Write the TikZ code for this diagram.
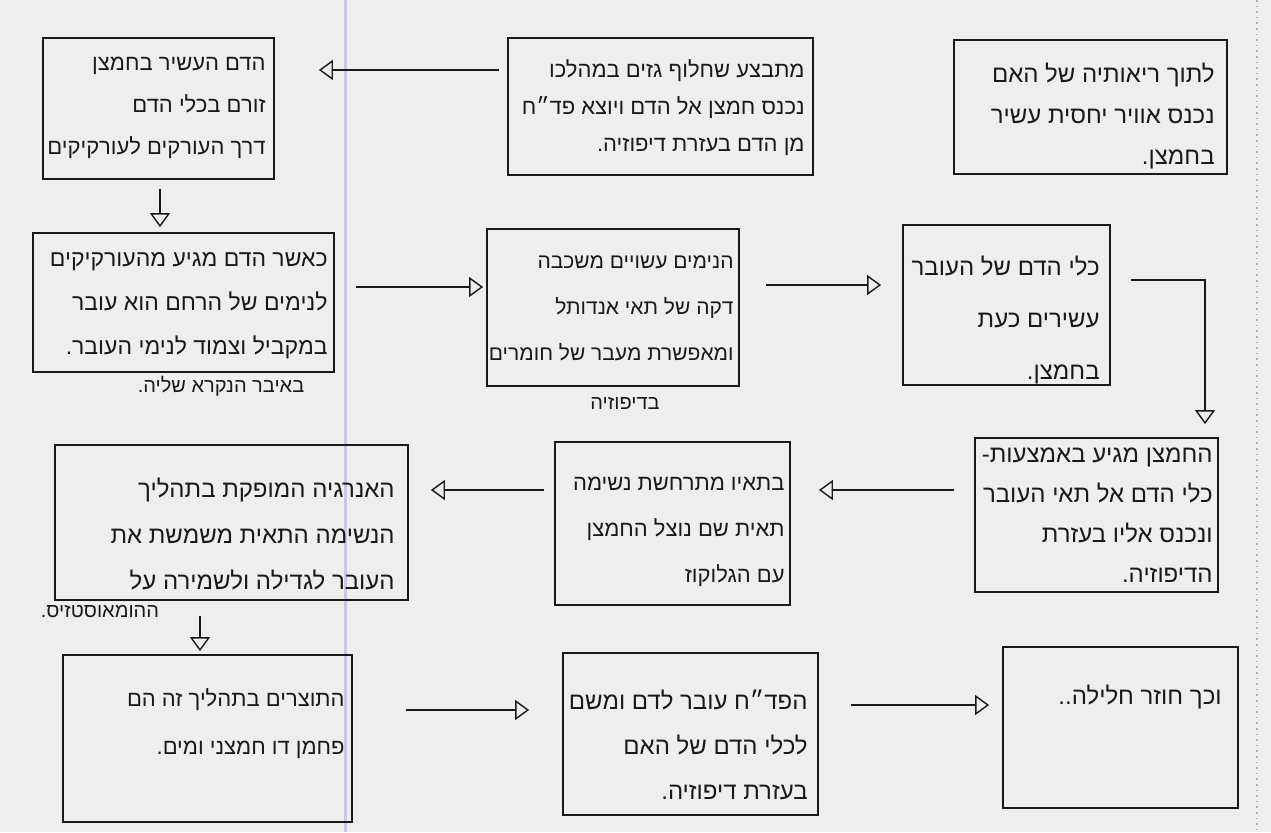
\documentclass[tikz,border=0pt]{standalone}
\usepackage{fontspec}
\newfontfamily\hebfont[Script=Hebrew]{Liberation Sans}
\TeXXeTstate=1
\usetikzlibrary{arrows.meta}
\definecolor{paper}{RGB}{238,238,238}
\definecolor{marginline}{RGB}{208,194,232}
\definecolor{ink}{RGB}{25,25,25}
\newcommand\hebline[1]{\beginR #1\endR}
\tikzset{
  box/.style={draw=ink, line width=0.9pt, inner sep=0pt},
  txt/.style={anchor=east, inner sep=0pt, align=right, text=ink},
  note/.style={font=\hebfont\fontsize{10}{12}\selectfont, text=ink, inner sep=1pt},
  arr/.style={draw=ink, line width=0.7pt,
    -{Triangle[open, length=7pt, width=10pt, line width=0.7pt]}}
}
\newcommand\fs[2]{\hebfont\fontsize{#1}{#2}\selectfont}
\begin{document}
\begin{tikzpicture}[x=0.5pt,y=-0.5pt]
\useasboundingbox (0,0) rectangle (1271,832);
\fill[paper] (0,0) rectangle (1271,832);
\draw[marginline, line width=1.5pt] (345,0) -- (345,832);
\draw[gray!60, line width=0.8pt, dotted] (1257,0) -- (1257,832);

% row 1
\node[box, minimum width=136.5pt, minimum height=67pt] (b1) at (1090.5,107) {};
\node[txt, font=\fs{12}{20.5}] (t1) at (1215,116)
 {\hebline{לתוך ריאותיה של האם}\\\hebline{נכנס אוויר יחסית עשיר}\\\hebline{בחמצן.}};
\node[box, minimum width=152.5pt, minimum height=68.5pt] (b2) at (660.5,106.5) {};
\node[txt, font=\fs{11}{18.5}] (t2) at (805,107.5)
 {\hebline{מתבצע שחלוף גזים במהלכו}\\\hebline{נכנס חמצן אל הדם ויוצא פד״ח}\\\hebline{מן הדם בעזרת דיפוזיה.}};
\node[box, minimum width=115.5pt, minimum height=70.5pt] (b3) at (158.5,108.5) {};
\node[txt, font=\fs{11}{21}] (t3) at (266,107.5)
 {\hebline{הדם העשיר בחמצן}\\\hebline{זורם בכלי הדם}\\\hebline{דרך העורקים לעורקיקים}};

% row 2
\node[box, minimum width=150.5pt, minimum height=69.5pt] (b4) at (183.5,302.5) {};
\node[txt, font=\fs{11.5}{22}] (t4) at (328,306)
 {\hebline{כאשר הדם מגיע מהעורקיקים}\\\hebline{לנימים של הרחם הוא עובר}\\\hebline{במקביל וצמוד לנימי העובר.}};
\node[note] (n4) at (221,386) {\hebline{באיבר הנקרא שליה.}};
\node[box, minimum width=126pt, minimum height=78.5pt] (b5) at (613,307.5) {};
\node[txt, font=\fs{10.5}{23}] (t5) at (734,308.5)
 {\hebline{הנימים עשויים משכבה}\\\hebline{דקה של תאי אנדותל}\\\hebline{ומאפשרת מעבר של חומרים}};
\node[note] (n5) at (625,403) {\hebline{בדיפוזיה}};
\node[box, minimum width=103.5pt, minimum height=80pt] (b6) at (1006.5,305) {};
\node[txt, font=\fs{12}{26}] (t6) at (1100,320)
 {\hebline{כלי הדם של העובר}\\\hebline{עשירים כעת}\\\hebline{בחמצן.}};

% row 3
\node[box, minimum width=121.5pt, minimum height=77pt] (b7) at (1096.5,515) {};
\node[txt, font=\fs{12}{20}] (t7) at (1213,515)
 {\hebline{החמצן מגיע באמצעות-}\\\hebline{כלי הדם אל תאי העובר}\\\hebline{ונכנס אליו בעזרת}\\\hebline{הדיפוזיה.}};
\node[box, minimum width=117.5pt, minimum height=81.5pt] (b8) at (672.5,523.5) {};
\node[txt, font=\fs{11}{23}] (t8) at (785,531.5)
 {\hebline{בתאיו מתרחשת נשימה}\\\hebline{תאית שם נוצל החמצן}\\\hebline{עם הגלוקוז}};
\node[box, minimum width=176.5pt, minimum height=77.5pt] (b9) at (231.5,522.5) {};
\node[txt, font=\fs{12}{23}] (t9) at (395,534)
 {\hebline{האנרגיה המופקת בתהליך}\\\hebline{הנשימה התאית משמשת את}\\\hebline{העובר לגדילה ולשמירה על}};
\node[note] (n9) at (100,611) {\hebline{ההומאוסטזיס.}};

% row 4
\node[box, minimum width=144.5pt, minimum height=83.5pt] (b10) at (207.5,738.5) {};
\node[txt, font=\fs{11}{24}] (t10) at (345,724)
 {\hebline{התוצרים בתהליך זה הם}\\\hebline{פחמן דו חמצני ומים.}};
\node[box, minimum width=127.5pt, minimum height=81pt] (b11) at (690.5,734) {};
\node[txt, font=\fs{12}{22.5}] (t11) at (808,745)
 {\hebline{הפד״ח עובר לדם ומשם}\\\hebline{לכלי הדם של האם}\\\hebline{בעזרת דיפוזיה.}};
\node[box, minimum width=117.5pt, minimum height=80.5pt] (b12) at (1120.5,727.5) {};
\node[txt, font=\fs{12}{14}] (t12) at (1222,697) {\hebline{וכך חוזר חלילה..}};

% connectors
\coordinate (a1s) at ([yshift=18.25pt]b2.west);
\draw[arr, shorten <=4pt, shorten >=22pt] (a1s) -- (a1s -| b3.east);
\coordinate (a2s) at ([xshift=0.75pt]b3.south);
\draw[arr, shorten <=4.5pt, shorten >=2.5pt] (a2s) -- (a2s |- b4.north);
\coordinate (a3s) at ([yshift=7.75pt]b4.east);
\draw[arr, shorten <=10.5pt, shorten >=1.5pt] (a3s) -- (a3s -| b5.west);
\coordinate (a4s) at ([yshift=11.25pt]b5.east);
\draw[arr, shorten <=13pt, shorten >=10.5pt] (a4s) -- (a4s -| b6.west);
\coordinate (a5s) at ([yshift=12.5pt]b6.east);
\coordinate (a5e) at ([xshift=54.25pt]b7.north);
\draw[arr, shorten <=10pt, shorten >=6.5pt] (a5s) -| (a5e);
\coordinate (a6s) at ([yshift=12.5pt]b7.west);
\draw[arr, shorten <=10pt, shorten >=14pt] (a6s) -- (a6s -| b8.east);
\coordinate (a7s) at ([yshift=16.75pt]b8.west);
\draw[arr, shorten <=5pt, shorten >=11pt] (a7s) -- (a7s -| b9.east);
\coordinate (a8s) at ([xshift=-15.75pt]b9.south);
\draw[arr, shorten <=7.5pt, shorten >=1.5pt] (a8s) -- (a8s |- b10.north);
\coordinate (a9s) at ([yshift=14.25pt]b10.east);
\draw[arr, shorten <=26.5pt, shorten >=16.5pt] (a9s) -- (a9s -| b11.west);
\coordinate (a10s) at ([yshift=14.5pt]b11.east);
\draw[arr, shorten <=16pt, shorten >=6.5pt] (a10s) -- (a10s -| b12.west);
\end{tikzpicture}
\end{document}
